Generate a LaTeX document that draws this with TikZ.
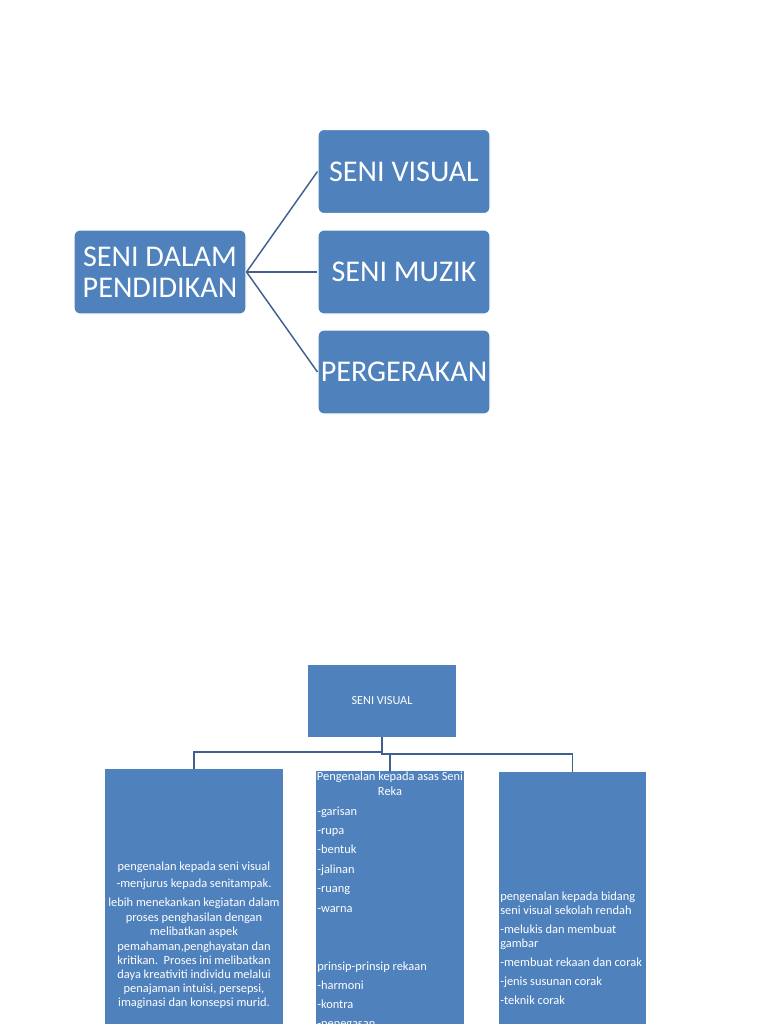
\documentclass[tikz,border=0pt]{standalone}
\usepackage{fontspec}
\setmainfont{Carlito}
\usetikzlibrary{positioning}
\definecolor{boxblue}{HTML}{4F81BD}
\definecolor{linkblue}{HTML}{3F618F}
\tikzset{
  topbox/.style = {rectangle, draw=white, line width=0.8pt, fill=boxblue, rounded corners=4.5pt,
                   minimum width=129pt, minimum height=63pt, align=center, inner sep=0pt,
                   text=white, font=\fontsize{22.6}{23.5}\selectfont},
  orgbox/.style = {rectangle, fill=boxblue, inner sep=0pt, anchor=north},
  linetext/.style = {inner sep=0pt, text=white, font=\fontsize{9.3}{10.5}\selectfont},
  link/.style = {draw=linkblue, line width=1.1pt},
}

\begin{document}
\begin{tikzpicture}[x=0.75pt,y=-0.75pt]

  \useasboundingbox (0,0) rectangle (768,1024);
  \clip (0,0) rectangle (768,1024);

  % === Top map ===
  \node[topbox] (root) at (160,272) {SENI DALAM\\PENDIDIKAN};
  \node[topbox] (visual) at (404,171.5) {SENI VISUAL};
  \node[topbox] (muzik) at (404,272) {SENI MUZIK};
  \node[topbox] (gerak) at (404,372) {PERGERAKAN};

  \draw[link] (root.east) -- (visual.west);
  \draw[link] (root.east) -- (muzik.west);
  \draw[link] (root.east) -- (gerak.west);

  % === Org chart ===
  \node[orgbox, anchor=center, minimum width=111pt, minimum height=54pt,
        text=white, font=\fontsize{9.2}{10}\selectfont] (sv) at (382,701) {SENI VISUAL};

  \node[orgbox, minimum width=133.5pt, minimum height=204pt] (kiri) at (194,769) {};
  \node[orgbox, minimum width=111pt, minimum height=204pt] (tengah) at (390,771) {};
  \node[orgbox, minimum width=110.25pt, minimum height=204pt] (kanan) at (572.5,772) {};

  % connectors
  \coordinate (jl) at (382,752);
  \coordinate (jr) at (382,754);
  \draw[link] (sv.south) -- (jl) -| (kiri.north);
  \draw[link] (jl) -- (jr) -| (kanan.north);
  \draw[link] (tengah.north |- jr) -- (tengah.north);

  % left box text
  \foreach \y/\t [count=\i] in {870.7/pengenalan kepada seni visual,
      887.7/-menjurus kepada senitampak.,
      906.7/lebih menekankan kegiatan dalam,
      921/proses penghasilan dengan,
      935.7/melibatkan aspek,
      950/{pemahaman,penghayatan dan},
      964/kritikan.\ \ Proses ini melibatkan,
      978.3/daya kreativiti individu melalui,
      992.3/{penajaman intuisi, persepsi,},
      1006.7/imaginasi dan konsepsi murid.} {
    \node[linetext, anchor=base] (kiri\i) at (194,\y) {\t};
  }

  % middle box text
  \node[linetext, anchor=base] (tengahA) at (390,780) {Pengenalan kepada asas Seni};
  \node[linetext, anchor=base] (tengahB) at (390,795) {Reka};
  \foreach \y/\t [count=\i] in {815/-garisan, 834/-rupa, 853.5/-bentuk, 873/-jalinan,
      892/-ruang, 912/-warna, 970/prinsip-prinsip rekaan, 989/-harmoni,
      1008/-kontra, 1027/-penegasan} {
    \node[linetext, anchor=base west] (tengah\i) at (317,\y) {\t};
  }

  % right box text
  \foreach \y/\t [count=\i] in {900.5/pengenalan kepada bidang, 914.5/seni visual sekolah rendah,
      933.5/-melukis dan membuat, 947.5/gambar, 966.5/-membuat rekaan dan corak,
      985.5/-jenis susunan corak, 1004.5/-teknik corak} {
    \node[linetext, anchor=base west] (kanan\i) at (500,\y) {\t};
  }

\end{tikzpicture}
\end{document}
